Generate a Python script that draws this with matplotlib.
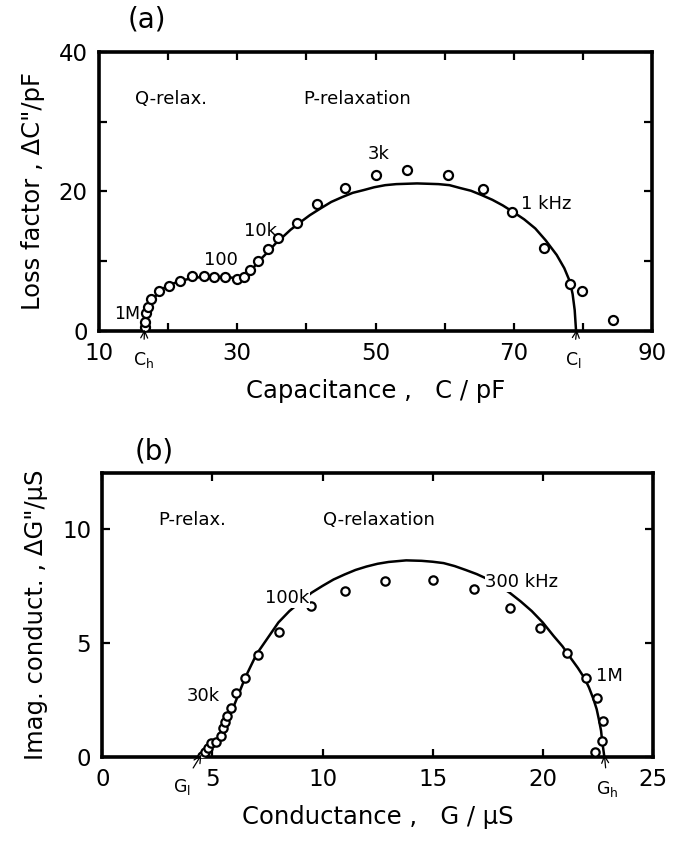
import matplotlib
matplotlib.use("Agg")
import matplotlib.pyplot as plt

# ---- panel (a): Cole-Cole plot of capacitance ----
cap_pts = [16.6, 16.6, 16.8, 17.1, 17.6, 18.7, 20.2, 21.7, 23.5, 25.2, 26.7, 28.3,
           29.9, 31.0, 31.9, 33.0, 34.5, 35.9, 38.7, 41.6, 45.6, 50.0, 54.6, 60.5,
           65.6, 69.7, 74.4, 78.1, 79.8, 84.4]
loss_pts = [0.6, 1.3, 2.6, 3.5, 4.6, 5.8, 6.5, 7.2, 7.9, 7.9, 7.8, 7.8,
            7.5, 7.8, 8.8, 10.0, 11.8, 13.3, 15.5, 18.2, 20.5, 22.4, 23.1, 22.4,
            20.4, 17.1, 11.9, 6.7, 5.7, 1.6]

cap_fit = [16.6, 16.7, 16.9, 17.2, 17.6, 18.2, 18.8, 19.6, 20.4, 21.9, 23.5, 25.0,
           26.6, 28.2, 29.7, 30.5, 31.2, 32.0, 32.8, 33.7, 34.6, 35.5, 36.5, 37.7,
           39.0, 40.5, 42.1, 43.6, 45.2, 46.7, 48.3, 49.8, 51.4, 53.0, 54.5, 56.0,
           57.6, 59.1, 60.7, 62.2, 63.8, 65.3, 66.9, 68.4, 70.0, 71.5, 73.1, 74.6,
           76.2, 77.3, 78.1, 78.5, 78.8, 79.0]
loss_fit = [0.0, 1.4, 2.5, 3.4, 4.1, 5.0, 5.7, 6.3, 6.7, 7.2, 7.6, 7.75,
            7.8, 7.75, 7.6, 7.65, 7.9, 8.7, 9.6, 10.6, 11.5, 12.5, 13.4, 14.5,
            15.5, 16.6, 17.6, 18.5, 19.2, 19.8, 20.2, 20.6, 20.9, 21.05, 21.1, 21.15,
            21.1, 21.05, 20.9, 20.5, 20.1, 19.5, 18.8, 18.0, 17.0, 16.0, 14.7, 13.0,
            10.9, 9.0, 7.1, 5.3, 3.0, 0.0]

# ---- panel (b): conductance plot ----
cond_pts = [4.55, 4.67, 4.8, 4.95, 5.16, 5.38, 5.46, 5.57, 5.66, 5.84, 6.05, 6.47,
            7.08, 8.03, 9.5, 11.02, 12.82, 15.02, 16.89, 18.52, 19.86, 21.11, 21.98,
            22.47, 22.76, 22.67, 22.37]
imag_pts = [0.05, 0.2, 0.4, 0.6, 0.66, 0.92, 1.25, 1.52, 1.8, 2.17, 2.8, 3.47,
            4.45, 5.48, 6.6, 7.27, 7.72, 7.77, 7.37, 6.55, 5.65, 4.55, 3.48,
            2.58, 1.56, 0.69, 0.2]

cond_fit = [4.5, 4.75, 5.0, 5.25, 5.5, 5.75, 6.0, 6.25, 6.5, 6.75, 7.0, 7.5, 8.0,
            8.5, 9.0, 9.5, 10.0, 10.5, 11.0, 11.5, 12.0, 12.5, 13.0, 13.8, 14.5,
            15.0, 15.5, 16.0, 16.5, 17.0, 17.5, 18.0, 18.5, 19.0, 19.5, 20.0, 20.5,
            20.9, 21.3, 21.6, 21.9, 22.1, 22.3, 22.45, 22.55, 22.65, 22.7, 22.75, 22.8]
imag_fit = [0.0, 0.22, 0.5, 0.82, 1.2, 1.7, 2.3, 2.9, 3.5, 4.0, 4.5, 5.2, 5.9,
            6.4, 6.8, 7.2, 7.5, 7.78, 8.0, 8.2, 8.35, 8.47, 8.55, 8.62, 8.6,
            8.56, 8.5, 8.37, 8.2, 8.02, 7.8, 7.52, 7.2, 6.82, 6.4, 5.9, 5.3,
            4.85, 4.3, 3.9, 3.45, 3.05, 2.55, 2.1, 1.65, 1.15, 0.7, 0.35, 0.0]

plt.rcParams['font.family'] = 'DejaVu Sans'

fig = plt.figure(figsize=(6.73, 8.46), dpi=100)


def style_axes(ax):
    for sp in ax.spines.values():
        sp.set_linewidth(2.6)
    ax.tick_params(direction='in', length=6, width=1.6, top=True, right=True,
                   labelsize=16.5, pad=8)


# Panel (a)
ax1 = fig.add_axes([0.147, 0.6087, 0.822, 0.33])
ax1.plot(cap_fit, loss_fit, color='black', lw=1.8, zorder=2)
ax1.plot(cap_pts, loss_pts, 'o', mfc='white', mec='black', mew=1.6, ms=6.5, zorder=3)
ax1.set_xlim(10, 90)
ax1.set_ylim(0, 40)
ax1.set_xticks(range(10, 91, 10))
ax1.set_xticklabels(['10', '', '30', '', '50', '', '70', '', '90'])
ax1.set_yticks([0, 10, 20, 30, 40])
ax1.set_yticklabels(['0', '', '20', '', '40'])
style_axes(ax1)
ax1.set_xlabel('Capacitance ,   C / pF', fontsize=17.5, labelpad=10)
ax1.set_ylabel('Loss factor , ΔC"/pF', fontsize=17.5, labelpad=10)
ax1.text(15.2, 33.2, 'Q-relax.', fontsize=13, va='center')
ax1.text(39.6, 33.2, 'P-relaxation', fontsize=13, va='center')
ax1.text(48.8, 25.3, '3k', fontsize=13, va='center')
ax1.text(71.0, 18.2, '1 kHz', fontsize=13, va='center')
ax1.text(31.0, 14.4, '10k', fontsize=13, va='center')
ax1.text(25.2, 10.2, '100', fontsize=13, va='center')
ax1.text(12.2, 2.5, '1M', fontsize=12.5, va='center')
ax1.annotate('C$_\\mathrm{h}$', xy=(16.6, 0.2), xytext=(16.4, -4.2),
             fontsize=12.5, ha='center', va='center', annotation_clip=False,
             arrowprops=dict(arrowstyle='->', lw=0.9, shrinkA=6, shrinkB=0))
ax1.annotate('C$_\\mathrm{l}$', xy=(79.1, 0.2), xytext=(78.6, -4.2),
             fontsize=12.5, ha='center', va='center', annotation_clip=False,
             arrowprops=dict(arrowstyle='->', lw=0.9, shrinkA=6, shrinkB=0))
fig.text(0.19, 0.977, '(a)', fontsize=20, ha='left', va='center')

# Panel (b)
ax2 = fig.add_axes([0.152, 0.1052, 0.818, 0.3357])
ax2.plot(cond_fit, imag_fit, color='black', lw=1.8, zorder=2)
ax2.plot(cond_pts, imag_pts, 'o', mfc='white', mec='black', mew=1.6, ms=6, zorder=3)
ax2.set_xlim(0, 25)
ax2.set_ylim(0, 12.45)
ax2.set_xticks([0, 5, 10, 15, 20, 25])
ax2.set_yticks([0, 5, 10])
style_axes(ax2)
ax2.set_xlabel('Conductance ,   G / μS', fontsize=17.5, labelpad=10)
ax2.set_ylabel('Imag. conduct. , ΔG"/μS', fontsize=17.5, labelpad=10)
ax2.text(2.55, 10.4, 'P-relax.', fontsize=13, va='center')
ax2.text(10.0, 10.4, 'Q-relaxation', fontsize=13, va='center')
ax2.text(7.4, 6.95, '100k', fontsize=13, va='center', zorder=4,
         bbox=dict(facecolor='white', edgecolor='none', pad=0.5))
ax2.text(3.85, 2.66, '30k', fontsize=13, va='center')
ax2.text(17.4, 7.65, '300 kHz', fontsize=13, va='center', zorder=4,
         bbox=dict(facecolor='white', edgecolor='none', pad=0.5))
ax2.text(22.4, 3.55, '1M', fontsize=13, va='center')
ax2.annotate('G$_\\mathrm{l}$', xy=(4.5, 0.1), xytext=(3.6, -1.3),
             fontsize=12.5, ha='center', va='center', annotation_clip=False,
             arrowprops=dict(arrowstyle='->', lw=0.9, shrinkA=5, shrinkB=0))
ax2.annotate('G$_\\mathrm{h}$', xy=(22.8, 0.1), xytext=(22.95, -1.4),
             fontsize=12.5, ha='center', va='center', annotation_clip=False,
             arrowprops=dict(arrowstyle='->', lw=0.9, shrinkA=6, shrinkB=0))
fig.text(0.2, 0.466, '(b)', fontsize=20, ha='left', va='center')

fig.savefig('out.png', dpi=100)
